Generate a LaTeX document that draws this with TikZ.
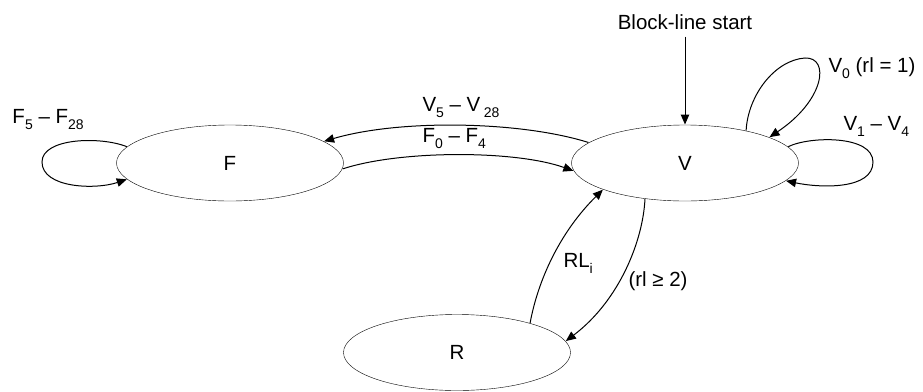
\documentclass[tikz,border=0pt]{standalone}
\usepackage{fontspec}
\setmainfont{Liberation Sans}
\usetikzlibrary{arrows.meta,shapes.geometric}
\newcommand\subs[1]{\raisebox{-6pt}{\fontsize{14}{14}\selectfont #1}}
\begin{document}
\begin{tikzpicture}[x=1pt,y=-1pt,
  every node/.style={font=\fontsize{20.5}{23}\selectfont},
  state/.style={draw,ellipse,minimum width=227pt,minimum height=76pt,inner sep=0pt},
  lbl/.style={anchor=base west,inner sep=0pt},
  conn/.style={line width=1pt,-{Triangle[length=10pt,width=8.5pt]}}]
\useasboundingbox (0,0) rectangle (923,391);
\tikzset{line width=1pt}
\node[state] (F) at (230,163) {F};
\node[state] (V) at (685,163) {V};
\node[state] (R) at (457,352.5) {R};
\node[anchor=base,inner sep=0pt] (start) at (685,29) {Block-line start};
\node[lbl] (lf) at (12,123) {F\subs{5} – F\subs{28}};
\node[lbl] (lvf) at (422,111) {V\subs{5} – V\,\subs{28}};
\node[lbl] (lfv) at (422,142) {F\subs{0} – F\subs{4}};
\node[lbl] (lv0) at (828,72) {V\subs{0} (rl = 1)};
\node[lbl] (lv1) at (843,130) {V\subs{1} – V\subs{4}};
\node[lbl] (lrl) at (563,267) {RL\subs{i}};
\node[lbl] (lrv) at (628,286) {(rl ≥ 2)};
\draw[conn,shorten <=7pt] (start.south) -- (V.north);
\draw[conn] (F.171) .. controls (100,136) and (42,138) .. (42,162)
  .. controls (42,188) and (95,190) .. (F.-171);
\draw[conn] (V.28) .. controls (748,95) and (775,60) .. (805,58)
  .. controls (830,57) and (825,100) .. (V.17);
\draw[conn] (V.9) .. controls (810,136) and (873,135) .. (873,162)
  .. controls (873,190) and (820,188) .. (V.-10);
\draw[conn] (V.168) .. controls (520,121) and (400,119) .. (F.13);
\draw[conn] (F.-3) .. controls (400,150) and (515,150) .. (V.184);
\draw[conn] (R.22) .. controls (538,280) and (560,232) .. (V.-162);
\draw[conn] (V.-138) .. controls (643,240) and (620,300) .. (R.6);
\end{tikzpicture}
\end{document}
